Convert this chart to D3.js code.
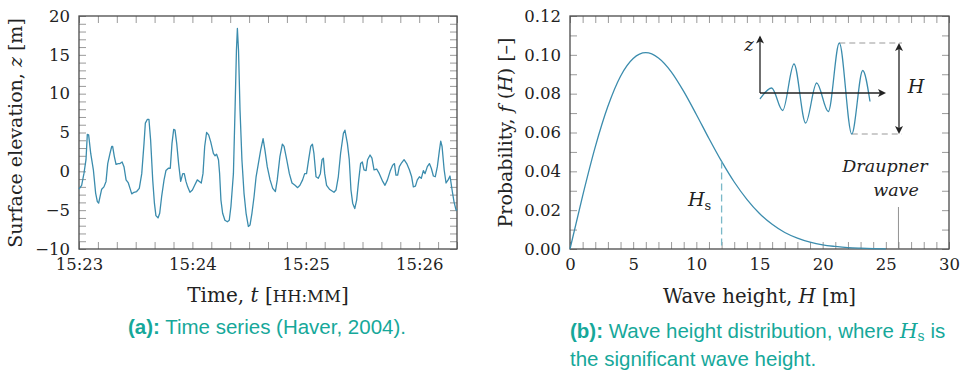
<!DOCTYPE html>
<html>
<head>
<meta charset="utf-8">
<title>Wave elevation and wave height distribution</title>
<script src="https://d3js.org/d3.v7.min.js"></script>
<style>
  body { margin: 0; background: #fff; }
  text { font-family: "DejaVu Serif", serif; fill: #222; }
  .cap { font-family: "Liberation Sans", Arial, sans-serif; fill: #16a89a; }
</style>
</head>
<body>
<svg width="962" height="371"></svg>
<script>
// ---- data ----
// (a) seconds after 15:23:00 and surface elevation [m]
var seconds = [0,1.4,2.6,3.7,4.4,5.1,6.2,7.6,8.8,9.7,10.4,11.1,12.0,13.2,14.3,15.2,16.4,17.3,17.8,18.7,19.6,20.8,21.7,22.8,23.8,24.9,26.1,27.0,27.9,29.1,30.5,31.9,33.2,34.4,35.1,36.2,37.0,37.9,39.0,39.9,40.7,41.8,42.7,43.7,45.0,46.0,47.3,48.3,49.2,50.1,50.8,51.7,52.7,53.8,54.9,55.7,56.6,57.5,58.7,60.0,61.2,62.6,63.7,64.7,65.6,66.5,67.5,68.6,69.7,71.1,72.0,72.8,73.8,74.4,75.1,76.0,77.2,78.5,79.5,80.4,81.7,82.6,83.3,83.8,84.4,85.2,86.2,87.3,88.4,89.6,90.5,91.5,92.6,93.7,94.9,96.1,97.4,98.4,99.6,101.1,102.5,103.9,104.9,106.3,107.6,108.5,109.9,111.3,112.7,114.3,115.7,116.9,118.3,119.4,120.4,121.5,122.6,123.5,124.3,125.4,126.6,127.7,128.6,129.3,130.0,131.0,132.5,133.7,134.9,136.0,137.2,138.4,139.9,140.7,142.0,143.0,143.9,144.8,145.9,146.9,148.0,149.0,149.9,150.8,151.9,152.7,154.0,155.0,156.1,157.5,158.9,160.7,161.9,163.2,164.6,166.0,166.9,167.7,168.6,169.5,170.7,172.0,173.4,174.8,176.0,176.9,178.0,179.0,180.1,181.1,182.2,183.1,184.3,185.4,186.4,187.5,188.5,189.6,190.7,191.4,192.1,193.2,194.2,195.3,196.3,197.4,198.4,199.5,200];
var elevation = [-2.3,-1.8,-0.3,1.5,4.75,4.7,2.3,0.2,-2.8,-3.9,-4.1,-3.3,-2.3,-2.0,-1.3,1.0,2.3,3.2,3.2,1.9,0.9,1.0,1.0,1.2,0.6,-1.1,-1.5,-2.2,-2.9,-2.7,-2.6,-2.2,-0.3,3.6,6.2,6.7,6.7,4.0,-1.1,-4.1,-5.7,-6.0,-5.4,-3.3,-1.1,0.1,0.4,0.4,3.6,5.4,5.3,3.6,1.0,-1.3,-0.3,-0.3,-1.3,-2.0,-2.7,-2.4,-1.8,-1.1,-1.3,-1.5,-0.3,3.2,5.0,4.7,3.8,2.3,2.0,2.2,1.5,-0.3,-3.7,-5.4,-6.3,-6.5,-6.3,-4.5,-0.3,8.3,15.6,18.4,15.6,7.9,1.5,-2.8,-5.4,-7.1,-6.9,-5.4,-3.3,-0.7,1.0,2.7,4.2,2.7,0.6,-1.1,-2.2,-2.6,-1.1,1.9,3.5,3.2,1.5,-0.3,-1.5,-1.8,-2.1,-1.8,-1.1,-0.3,-0.3,1.5,3.2,3.5,2.3,-0.7,-0.9,-0.3,1.5,1.7,-0.3,-1.8,-2.3,-2.5,-2.7,-2.4,-0.7,2.3,4.9,5.3,3.6,1.5,-2.4,-4.1,-4.8,-3.7,-1.1,1.0,1.2,0.2,0.1,1.5,2.1,1.7,0.2,0.3,-0.3,-1.3,-1.8,-1.1,0.0,0.8,1.0,-0.5,-0.5,0.6,1.1,1.5,1.0,0.2,-0.7,-2.0,-1.9,-1.1,-0.7,-0.9,0.1,-0.3,0.6,1.0,0.4,-0.6,-0.7,0.6,2.7,3.9,3.2,0.2,-1.5,-1.1,-0.6,-2.4,-3.9,-5.0,-4.9];
var timeTicks = [0, 60, 120, 180];
var timeLabels = ["15:23", "15:24", "15:25", "15:26"];
var elevTicks = [-10, -5, 0, 5, 10, 15, 20];

// (b) wave height [m] and probability density
var waveHeight = [0,1,2,3,4,5,6,7,8,9,10,11,12,13,14,15,16,17,18,19,20,21,22,23,24,25];
var probability = [0,0.0274,0.0526,0.0735,0.0890,0.0981,0.1011,0.0984,0.0914,0.0812,0.0693,0.0569,0.0451,0.0345,0.0256,0.0183,0.0127,0.0085,0.0056,0.0035,0.0021,0.0013,0.0007,0.0004,0.0002,0.0001];
var heightTicks = [0, 5, 10, 15, 20, 25, 30];
var probTicks = [0, 0.02, 0.04, 0.06, 0.08, 0.10, 0.12];
var sigWaveHeight = 12, sigWaveProb = 0.0451;
var draupnerHeight = 26;

// inset sketch (relative position, relative elevation)
var sketchX = [0,0.106,0.206,0.309,0.415,0.515,0.621,0.721,0.834,0.934,1.0];
var sketchZ = [-0.12,0.1,-0.35,0.58,-0.6,0.2,-0.37,1.0,-0.82,0.45,-0.17];

var lineColor = "#3b8cad";

var svg = d3.select("svg");

function frame(g, x, y, xMinor, yMinor) {
    var tickStyle = function(sel) {
        sel.select(".domain").remove();
        sel.selectAll("line").attr("stroke", "#9a9a9a").attr("stroke-width", 1);
    };
    g.append("g").attr("transform", "translate(0," + y.range()[0] + ")")
        .call(d3.axisBottom(x).tickValues(xMinor).tickSize(-7).tickFormat("")).call(tickStyle);
    g.append("g").attr("transform", "translate(0," + y.range()[1] + ")")
        .call(d3.axisTop(x).tickValues(xMinor).tickSize(-7).tickFormat("")).call(tickStyle);
    g.append("g").attr("transform", "translate(" + x.range()[0] + ",0)")
        .call(d3.axisLeft(y).tickValues(yMinor).tickSize(-7).tickFormat("")).call(tickStyle);
    g.append("g").attr("transform", "translate(" + x.range()[1] + ",0)")
        .call(d3.axisRight(y).tickValues(yMinor).tickSize(-7).tickFormat("")).call(tickStyle);
    g.append("rect")
        .attr("x", x.range()[0]).attr("y", y.range()[1])
        .attr("width", x.range()[1] - x.range()[0]).attr("height", y.range()[0] - y.range()[1])
        .attr("fill", "none").attr("stroke", "#4a4a4a").attr("stroke-width", 1.3);
}

function labels(g, x, y, xt, xf, yt, yf) {
    var st = function(sel) {
        sel.select(".domain").remove();
        sel.selectAll("text").style("font-family", "DejaVu Serif").style("font-size", "16.5px").attr("fill", "#222");
    };
    g.append("g").attr("transform", "translate(0," + y.range()[0] + ")")
        .call(d3.axisBottom(x).tickValues(xt).tickSize(0).tickPadding(9).tickFormat(xf)).call(st);
    g.append("g").attr("transform", "translate(" + x.range()[0] + ",0)")
        .call(d3.axisLeft(y).tickValues(yt).tickSize(0).tickPadding(9).tickFormat(yf)).call(st);
}

// ---------- (a) time series ----------
var xA = d3.scaleLinear().domain([0, 200]).range([79, 457]);
var yA = d3.scaleLinear().domain([-10, 20]).range([249, 16]);
var gA = svg.append("g");

frame(gA, xA, yA, d3.range(0, 201, 10), d3.range(-10, 21, 1));

gA.append("path")
    .datum(d3.zip(seconds, elevation))
    .attr("fill", "none").attr("stroke", lineColor).attr("stroke-width", 1.3)
    .attr("stroke-linejoin", "round")
    .attr("d", d3.line().x(d => xA(d[0])).y(d => yA(d[1])));

labels(gA, xA, yA, timeTicks, (d, i) => timeLabels[i], elevTicks, d => d < 0 ? "\u2212" + Math.abs(d) : d);

var tA = gA.append("text").attr("x", 268).attr("y", 302).attr("text-anchor", "middle").style("font-size", "20px");
tA.append("tspan").text("Time, ");
tA.append("tspan").style("font-style", "italic").text("t");
tA.append("tspan").text(" [");
tA.append("tspan").style("font-size", "16.5px").text("HH:MM");
tA.append("tspan").text("]");

var yTA = gA.append("text").attr("transform", "translate(22,133) rotate(-90)").attr("text-anchor", "middle").style("font-size", "19px");
yTA.append("tspan").text("Surface elevation, ");
yTA.append("tspan").style("font-style", "italic").text("z");
yTA.append("tspan").text(" [m]");

var cA = gA.append("text").attr("class", "cap").attr("x", 267).attr("y", 334).attr("text-anchor", "middle").style("font-size", "20.5px");
cA.append("tspan").style("font-weight", "bold").text("(a):");
cA.append("tspan").text(" Time series (Haver, 2004).");

// ---------- (b) wave height distribution ----------
var xB = d3.scaleLinear().domain([0, 30]).range([570, 949]);
var yB = d3.scaleLinear().domain([0, 0.12]).range([249, 16]);
var gB = svg.append("g");

frame(gB, xB, yB, d3.range(0, 31, 1), d3.range(0, 0.1201, 0.01));

gB.append("line")
    .attr("x1", xB(draupnerHeight)).attr("x2", xB(draupnerHeight))
    .attr("y1", 207).attr("y2", yB(0))
    .attr("stroke", "#777").attr("stroke-width", 0.8);

gB.append("path")
    .datum(d3.zip(waveHeight, probability))
    .attr("fill", "none").attr("stroke", lineColor).attr("stroke-width", 1.3)
    .attr("d", d3.line().curve(d3.curveMonotoneX).x(d => xB(d[0])).y(d => yB(d[1])));

gB.append("line")
    .attr("x1", xB(sigWaveHeight)).attr("x2", xB(sigWaveHeight))
    .attr("y1", yB(sigWaveProb)).attr("y2", yB(0))
    .attr("stroke", "#7ab8c8").attr("stroke-width", 1.3).attr("stroke-dasharray", "7,4");

labels(gB, xB, yB, heightTicks, d => d, probTicks, d3.format(".2f"));

var tB = gB.append("text").attr("x", 759.5).attr("y", 303).attr("text-anchor", "middle").style("font-size", "19.7px");
tB.append("tspan").text("Wave height, ");
tB.append("tspan").style("font-style", "italic").text("H");
tB.append("tspan").text(" [m]");

var yTB = gB.append("text").attr("transform", "translate(512,132.5) rotate(-90)").attr("text-anchor", "middle").style("font-size", "19px");
yTB.append("tspan").text("Probability, ");
yTB.append("tspan").style("font-style", "italic").text("f");
yTB.append("tspan").text(" (");
yTB.append("tspan").style("font-style", "italic").text("H");
yTB.append("tspan").text(") [\u2013]");

var hs = gB.append("text").attr("x", 688).attr("y", 206).style("font-size", "19px");
hs.append("tspan").style("font-style", "italic").text("H");
hs.append("tspan").attr("dy", 4).style("font-size", "13px").text("s");

gB.append("text").attr("x", 885).attr("y", 172).attr("text-anchor", "middle")
    .style("font-style", "italic").style("font-size", "17.5px").text("Draupner");
gB.append("text").attr("x", 896).attr("y", 196).attr("text-anchor", "middle")
    .style("font-style", "italic").style("font-size", "17.5px").text("wave");

// inset sketch
var sx = d3.scaleLinear().domain([0, 1]).range([760, 870]);
var sz = d3.scaleLinear().domain([0, 1]).range([93, 43]);
var ins = gB.append("g");

ins.append("line").attr("x1", sx(sketchX[7])).attr("x2", 902).attr("y1", sz(1)).attr("y2", sz(1))
    .attr("stroke", "#999").attr("stroke-dasharray", "6,4");
ins.append("line").attr("x1", sx(sketchX[8])).attr("x2", 902).attr("y1", sz(sketchZ[8])).attr("y2", sz(sketchZ[8]))
    .attr("stroke", "#999").attr("stroke-dasharray", "6,4");

ins.append("path")
    .datum(d3.zip(sketchX, sketchZ))
    .attr("fill", "none").attr("stroke", lineColor).attr("stroke-width", 1.3)
    .attr("d", d3.line().curve(d3.curveMonotoneX).x(d => sx(d[0])).y(d => sz(d[1])));

function arrowHead(x, y, angle) {
    ins.append("path").attr("d", "M0,0 L-8,-4 L-6,0 L-8,4 Z")
        .attr("transform", "translate(" + x + "," + y + ") rotate(" + angle + ")")
        .attr("fill", "#222");
}
ins.append("line").attr("x1", sx(0)).attr("x2", sx(0)).attr("y1", sz(0)).attr("y2", 37)
    .attr("stroke", "#222").attr("stroke-width", 1.3);
arrowHead(sx(0), 35.5, -90);
ins.append("line").attr("x1", sx(0)).attr("x2", 884).attr("y1", sz(0)).attr("y2", sz(0))
    .attr("stroke", "#222").attr("stroke-width", 1.3);
arrowHead(886, sz(0), 0);
ins.append("line").attr("x1", 899).attr("x2", 899).attr("y1", sz(1) + 2).attr("y2", sz(sketchZ[8]) - 2)
    .attr("stroke", "#222").attr("stroke-width", 1.3);
arrowHead(899, sz(1), -90);
arrowHead(899, sz(sketchZ[8]), 90);

ins.append("text").attr("x", 916).attr("y", 93).attr("text-anchor", "middle")
    .style("font-style", "italic").style("font-size", "19px").text("H");
ins.append("text").attr("x", 749).attr("y", 51).attr("text-anchor", "middle")
    .style("font-style", "italic").style("font-size", "18px").text("z");

var cB = gB.append("text").attr("class", "cap").attr("x", 570).attr("y", 338).style("font-size", "20.5px");
cB.append("tspan").style("font-weight", "bold").text("(b):");
cB.append("tspan").text(" Wave height distribution, where ");
cB.append("tspan").style("font-family", "DejaVu Serif").style("font-style", "italic").text("H");
cB.append("tspan").attr("dy", 3).style("font-family", "DejaVu Serif").style("font-size", "14px").text("s");
cB.append("tspan").attr("dy", -3).text(" is");
gB.append("text").attr("class", "cap").attr("x", 570).attr("y", 366).style("font-size", "20.5px")
    .text("the significant wave height.");
</script>
</body>
</html>
